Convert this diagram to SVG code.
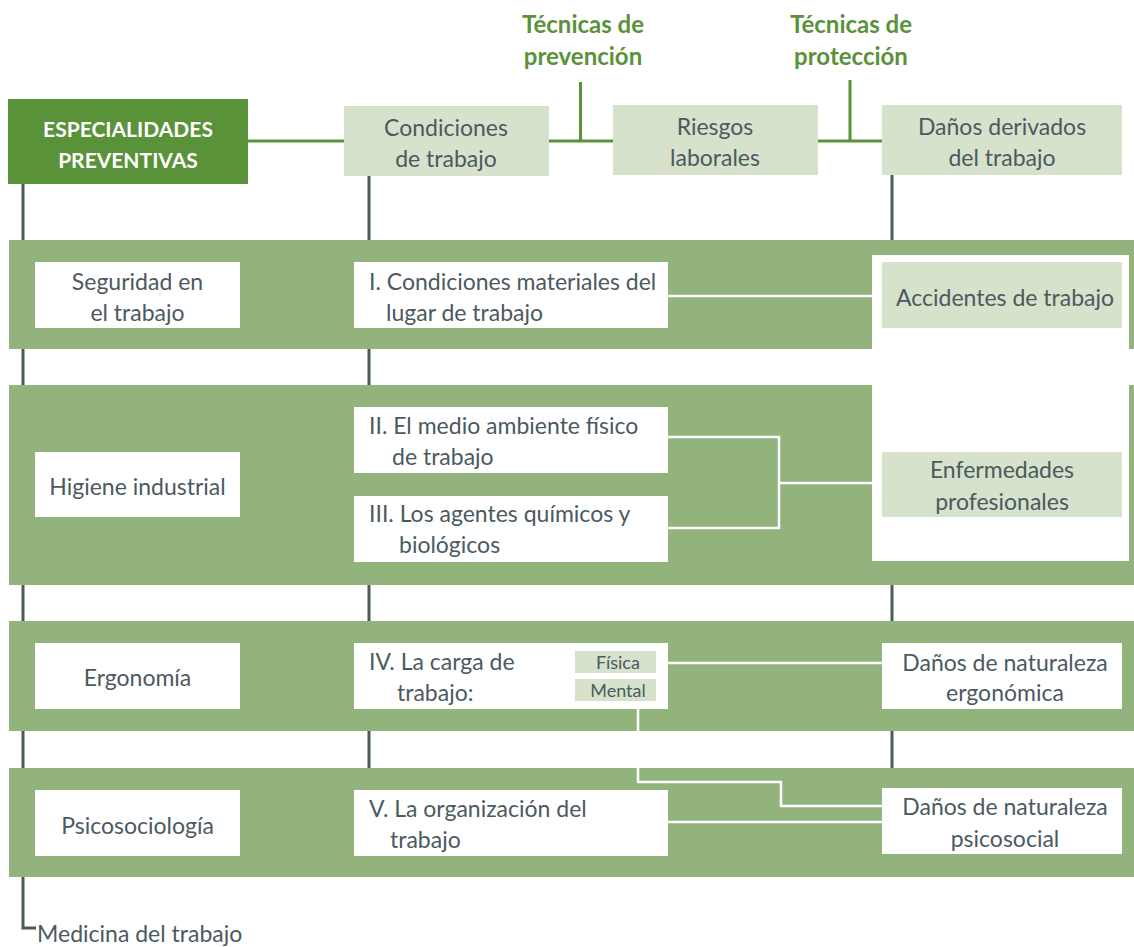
<svg xmlns="http://www.w3.org/2000/svg" width="1134" height="947" viewBox="0 0 1134 947">
<style>
.band{fill:#93b37c}
.wbox{fill:#ffffff}
.lbox{fill:#d6e2cb}
.dbox{fill:#5a923a}
.t{font-family:Lato,"Open Sans","Noto Sans",sans-serif;font-size:23px;fill:#4b5a5f}
.s{font-size:18px}
.c{text-anchor:middle}
.g{fill:#5a923a;font-weight:bold;font-size:24px}
.h{fill:#ffffff;font-weight:bold;font-size:21px}
.dark{stroke:#4b5a5f;stroke-width:3;fill:none}
.gl{stroke:#5a923a;stroke-width:3;fill:none}
.wl{stroke:#ffffff;stroke-width:2.5;fill:none}
</style>
<rect width="1134" height="947" fill="#ffffff"/>
<g id="bands">
<rect class="band" x="9" y="240" width="1125" height="109"/>
<rect class="band" x="9" y="385" width="1125" height="200"/>
<rect class="band" x="9" y="621" width="1125" height="110"/>
<rect class="band" x="9" y="768" width="1125" height="109"/>
<rect class="wbox" x="872" y="255" width="257" height="306"/>
</g>
<g id="connectors">
<path class="dark" d="M23,184 V240 M23,349 V385 M23,585 V621 M23,731 V768 M23,877 V928 H36"/>
<path class="dark" d="M369,176 V240 M369,349 V385 M369,585 V621 M369,731 V768"/>
<path class="dark" d="M892,175 V240 M892,585 V621 M892,731 V768"/>
<path class="gl" d="M248,141 H344 M549,141 H613 M818,141 H882"/>
<path class="gl" d="M580.5,82 V141 M850,80 V141"/>
<path class="wl" d="M668,296 H882"/>
<path class="wl" d="M668,437 H779 V528 H668 M779,483 H882"/>
<path class="wl" d="M668,663 H882"/>
<path class="wl" d="M638,701 V782 H781 V806 H882"/>
<path class="wl" d="M668,822 H882"/>
</g>
<g id="tec-prevencion">
<text class="t g c" x="583" y="33">Técnicas de</text>
<text class="t g c" x="583" y="65">prevención</text>
</g>
<g id="tec-proteccion">
<text class="t g c" x="851" y="33">Técnicas de</text>
<text class="t g c" x="851" y="65">protección</text>
</g>
<g id="especialidades">
<rect class="dbox" x="8" y="99" width="240" height="85"/>
<text class="t h c" x="128" y="137">ESPECIALIDADES</text>
<text class="t h c" x="128" y="168">PREVENTIVAS</text>
</g>
<g id="condiciones">
<rect class="lbox" x="344" y="106" width="205" height="70"/>
<text class="t c" x="446" y="136">Condiciones</text>
<text class="t c" x="446" y="167">de trabajo</text>
</g>
<g id="riesgos">
<rect class="lbox" x="613" y="105" width="205" height="70"/>
<text class="t c" x="715" y="135">Riesgos</text>
<text class="t c" x="715" y="166">laborales</text>
</g>
<g id="danos">
<rect class="lbox" x="882" y="105" width="240" height="70"/>
<text class="t c" x="1002" y="135">Daños derivados</text>
<text class="t c" x="1002" y="166">del trabajo</text>
</g>
<g id="seguridad">
<rect class="wbox" x="35" y="262" width="205" height="66"/>
<text class="t c" x="137.5" y="290">Seguridad en</text>
<text class="t c" x="137.5" y="321">el trabajo</text>
</g>
<g id="cond-materiales">
<rect class="wbox" x="354" y="262" width="314" height="66"/>
<text class="t" x="369" y="290">I. Condiciones materiales del</text>
<text class="t" x="386" y="321">lugar de trabajo</text>
</g>
<g id="accidentes">
<rect class="lbox" x="882" y="262" width="240" height="66"/>
<text class="t c" x="1005" y="306">Accidentes de trabajo</text>
</g>
<g id="higiene">
<rect class="wbox" x="35" y="452" width="205" height="65"/>
<text class="t c" x="137.5" y="495">Higiene industrial</text>
</g>
<g id="medio-ambiente">
<rect class="wbox" x="354" y="407" width="314" height="66"/>
<text class="t" x="369" y="434">II. El medio ambiente físico</text>
<text class="t" x="392" y="465">de trabajo</text>
</g>
<g id="agentes">
<rect class="wbox" x="354" y="496" width="314" height="66"/>
<text class="t" x="369" y="522">III. Los agentes químicos y</text>
<text class="t" x="399" y="553">biológicos</text>
</g>
<g id="enfermedades">
<rect class="lbox" x="882" y="452" width="240" height="65"/>
<text class="t c" x="1002" y="478">Enfermedades</text>
<text class="t c" x="1002" y="510">profesionales</text>
</g>
<g id="ergonomia">
<rect class="wbox" x="35" y="643" width="205" height="66"/>
<text class="t c" x="137.5" y="686">Ergonomía</text>
</g>
<g id="carga">
<rect class="wbox" x="354" y="643" width="314" height="66"/>
<text class="t" x="369" y="670">IV. La carga de</text>
<text class="t" x="397" y="701">trabajo:</text>
<rect class="lbox" x="575" y="651" width="81" height="22"/>
<text class="t s c" x="618" y="669">Física</text>
<rect class="lbox" x="575" y="679" width="81" height="22"/>
<text class="t s c" x="618" y="697">Mental</text>
</g>
<g id="ergonomica">
<rect class="wbox" x="882" y="643" width="240" height="66"/>
<text class="t c" x="1005" y="671">Daños de naturaleza</text>
<text class="t c" x="1005" y="701">ergonómica</text>
</g>
<g id="psicosociologia">
<rect class="wbox" x="35" y="790" width="205" height="66"/>
<text class="t c" x="137.5" y="834">Psicosociología</text>
</g>
<g id="organizacion">
<rect class="wbox" x="354" y="790" width="314" height="66"/>
<text class="t" x="369" y="817">V. La organización del</text>
<text class="t" x="390" y="848">trabajo</text>
</g>
<g id="psicosocial">
<rect class="wbox" x="882" y="788" width="240" height="66"/>
<text class="t c" x="1005" y="815">Daños de naturaleza</text>
<text class="t c" x="1005" y="847">psicosocial</text>
</g>
<g id="medicina">
<text class="t" x="37" y="942">Medicina del trabajo</text>
</g>
</svg>
